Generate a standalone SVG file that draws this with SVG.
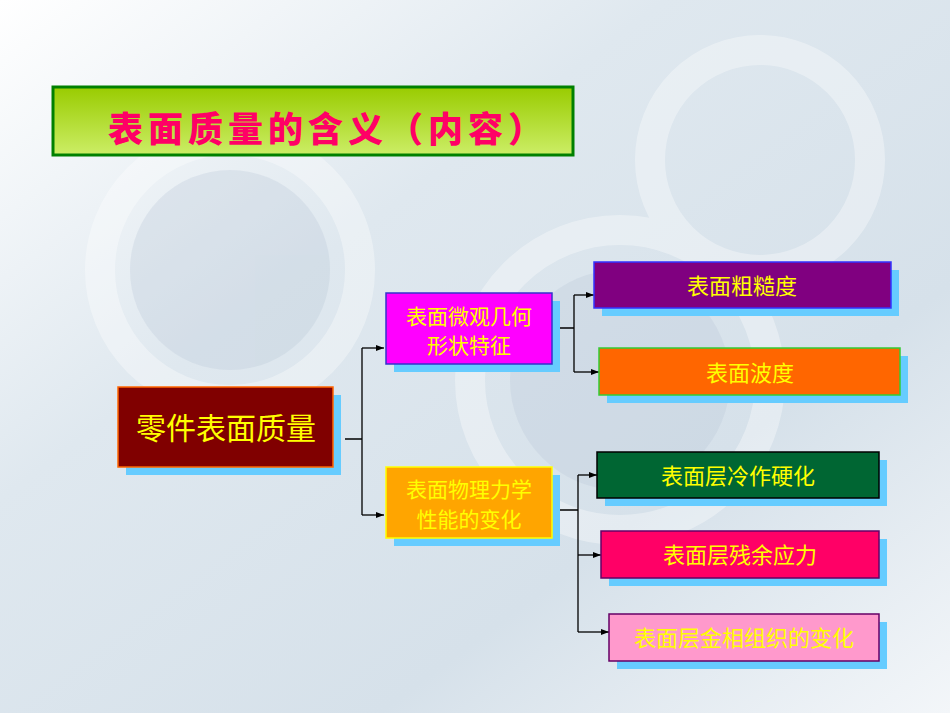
<svg xmlns="http://www.w3.org/2000/svg" width="950" height="713" viewBox="0 0 950 713">
<defs>
<linearGradient id="bg" x1="0" y1="0" x2="1" y2="1"><stop offset="0" stop-color="#ffffff"/><stop offset="0.35" stop-color="#dfe8ef"/><stop offset="0.7" stop-color="#d6e1ea"/><stop offset="1" stop-color="#f3f6f9"/></linearGradient>
<linearGradient id="tg" x1="0" y1="0" x2="0" y2="1"><stop offset="0" stop-color="#99cc00"/><stop offset="1" stop-color="#ccee66"/></linearGradient>
<marker id="ar" markerWidth="8" markerHeight="6" refX="8" refY="3" orient="auto" markerUnits="userSpaceOnUse"><path d="M0,0 L8,3 L0,6 Z" fill="#000"/></marker>
<style>
.sh{fill:#66ccff}
.t{font-family:"Noto Sans CJK SC",sans-serif;fill:#ffff00;text-anchor:middle}
.c{fill:none;stroke:#000;stroke-width:1.3}
</style>
</defs>
<rect width="950" height="713" fill="url(#bg)"/>
<g opacity="0.35" fill="none" stroke="#ffffff" stroke-width="30">
<circle cx="230" cy="270" r="130"/>
<circle cx="620" cy="380" r="150"/>
<circle cx="760" cy="160" r="110"/>
</g>
<g opacity="0.3" fill="#b8c8d6">
<circle cx="230" cy="270" r="100"/>
<circle cx="620" cy="380" r="110"/>
</g>
<g id="title">
<rect x="53" y="87" width="520" height="68" fill="url(#tg)" stroke="#008000" stroke-width="3"/>
<text x="328" y="142" font-family="'Noto Sans CJK SC',sans-serif" font-weight="900" font-size="35" letter-spacing="5" fill="#ff0066" text-anchor="middle">表面质量的含义（内容）</text>
</g>
<g id="connectors">
<path class="c" d="M345,439 H362 M362,348 V515"/>
<path class="c" marker-end="url(#ar)" d="M362,348 H384"/>
<path class="c" marker-end="url(#ar)" d="M362,515 H384"/>
<path class="c" d="M552,328 H574 M574,295 V372"/>
<path class="c" marker-end="url(#ar)" d="M574,295 H594"/>
<path class="c" marker-end="url(#ar)" d="M574,372 H599"/>
<path class="c" d="M552,510 H578 M578,475 V632"/>
<path class="c" marker-end="url(#ar)" d="M578,475 H597"/>
<path class="c" marker-end="url(#ar)" d="M578,555 H601"/>
<path class="c" marker-end="url(#ar)" d="M578,632 H609"/>
</g>
<g id="main">
<rect class="sh" x="126" y="395" width="215" height="80"/>
<rect x="118" y="387" width="215" height="80" fill="#800000" stroke="#ff6600" stroke-width="1.5"/>
<text class="t" x="226" y="439" font-size="30">零件表面质量</text>
</g>
<g id="n1">
<rect class="sh" x="394" y="301" width="166" height="71"/>
<rect x="386" y="293" width="166" height="71" fill="#ff00ff" stroke="#3333cc" stroke-width="1.5"/>
<text class="t" x="469" y="324" font-size="21">表面微观几何</text>
<text class="t" x="469" y="353" font-size="21">形状特征</text>
</g>
<g id="n2">
<rect class="sh" x="394" y="475" width="166" height="71"/>
<rect x="386" y="467" width="166" height="71" fill="#ffa500" stroke="#ffff00" stroke-width="1.5"/>
<text class="t" x="469" y="497" font-size="21">表面物理力学</text>
<text class="t" x="469" y="527" font-size="21">性能的变化</text>
</g>
<g id="r1">
<rect class="sh" x="602" y="270" width="297" height="46"/>
<rect x="594" y="262" width="297" height="46" fill="#800080" stroke="#3333ff" stroke-width="1.5"/>
<text class="t" x="742" y="294" font-size="22">表面粗糙度</text>
</g>
<g id="r2">
<rect class="sh" x="607" y="356" width="301" height="47"/>
<rect x="599" y="348" width="301" height="47" fill="#ff6600" stroke="#33cc33" stroke-width="1.5"/>
<text class="t" x="750" y="381" font-size="22">表面波度</text>
</g>
<g id="r3">
<rect class="sh" x="605" y="460" width="282" height="46"/>
<rect x="597" y="452" width="282" height="46" fill="#006633" stroke="#000" stroke-width="1.5"/>
<text class="t" x="738" y="484" font-size="22">表面层冷作硬化</text>
</g>
<g id="r4">
<rect class="sh" x="609" y="539" width="278" height="47"/>
<rect x="601" y="531" width="278" height="47" fill="#ff0066" stroke="#660066" stroke-width="1.5"/>
<text class="t" x="740" y="563" font-size="22">表面层残余应力</text>
</g>
<g id="r5">
<rect class="sh" x="617" y="622" width="270" height="47"/>
<rect x="609" y="614" width="270" height="47" fill="#ff99cc" stroke="#660066" stroke-width="1.5"/>
<text class="t" x="744" y="646" font-size="22">表面层金相组织的变化</text>
</g>
</svg>
